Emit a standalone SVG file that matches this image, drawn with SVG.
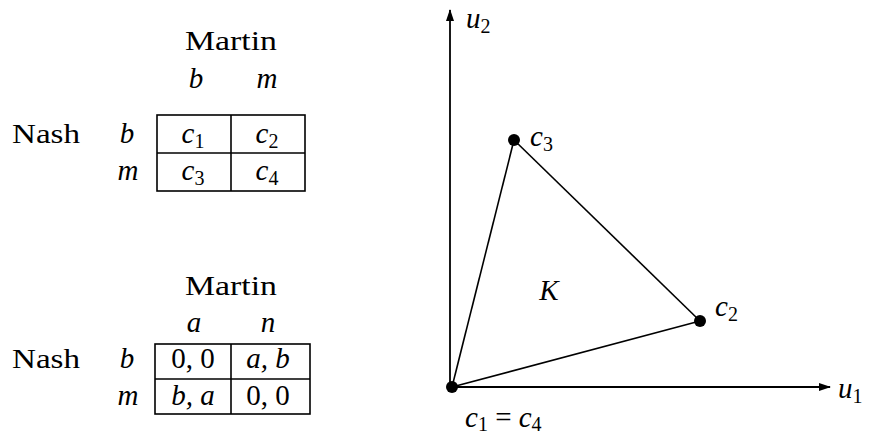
<svg xmlns="http://www.w3.org/2000/svg" width="876" height="435" viewBox="0 0 876 435">
<defs>
<marker id="ar" viewBox="0 0 12 8" refX="11" refY="4" markerWidth="12" markerHeight="8" markerUnits="userSpaceOnUse" orient="auto">
<path d="M0,0 L12,4 L0,8 Z" fill="#000"/>
</marker>
</defs>
<g id="table1">
<text x="231" y="50" text-anchor="middle" font-family="Liberation Serif" font-size="28" textLength="92" lengthAdjust="spacingAndGlyphs">Martin</text>
<text x="196" y="88" text-anchor="middle" font-style="italic" font-family="Liberation Serif" font-size="29">b</text>
<text x="267" y="88" text-anchor="middle" font-style="italic" font-family="Liberation Serif" font-size="29">m</text>
<text x="12" y="143" font-family="Liberation Serif" font-size="28" textLength="68" lengthAdjust="spacingAndGlyphs">Nash</text>
<text x="127" y="143" text-anchor="middle" font-style="italic" font-family="Liberation Serif" font-size="29">b</text>
<text x="128" y="180" text-anchor="middle" font-style="italic" font-family="Liberation Serif" font-size="29">m</text>
<rect x="157" y="115" width="148" height="76" fill="none" stroke="#000" stroke-width="1.6"/>
<line x1="231" y1="115" x2="231" y2="191" stroke="#000" stroke-width="1.6"/>
<line x1="157" y1="153" x2="305" y2="153" stroke="#000" stroke-width="1.6"/>
<text x="193" y="143" text-anchor="middle" font-style="italic" font-family="Liberation Serif" font-size="29">c<tspan font-style="normal" font-size="20" dy="5">1</tspan></text>
<text x="267" y="143" text-anchor="middle" font-style="italic" font-family="Liberation Serif" font-size="29">c<tspan font-style="normal" font-size="20" dy="5">2</tspan></text>
<text x="193" y="180" text-anchor="middle" font-style="italic" font-family="Liberation Serif" font-size="29">c<tspan font-style="normal" font-size="20" dy="5">3</tspan></text>
<text x="267" y="180" text-anchor="middle" font-style="italic" font-family="Liberation Serif" font-size="29">c<tspan font-style="normal" font-size="20" dy="5">4</tspan></text>
</g>
<g id="table2">
<text x="231" y="295" text-anchor="middle" font-family="Liberation Serif" font-size="28" textLength="92" lengthAdjust="spacingAndGlyphs">Martin</text>
<text x="194" y="332" text-anchor="middle" font-style="italic" font-family="Liberation Serif" font-size="29">a</text>
<text x="268" y="332" text-anchor="middle" font-style="italic" font-family="Liberation Serif" font-size="29">n</text>
<text x="12" y="368" font-family="Liberation Serif" font-size="28" textLength="68" lengthAdjust="spacingAndGlyphs">Nash</text>
<text x="127" y="368" text-anchor="middle" font-style="italic" font-family="Liberation Serif" font-size="29">b</text>
<text x="128" y="405" text-anchor="middle" font-style="italic" font-family="Liberation Serif" font-size="29">m</text>
<rect x="155" y="344" width="155" height="70" fill="none" stroke="#000" stroke-width="1.6"/>
<line x1="231" y1="344" x2="231" y2="414" stroke="#000" stroke-width="1.6"/>
<line x1="155" y1="379" x2="310" y2="379" stroke="#000" stroke-width="1.6"/>
<text x="193" y="368" text-anchor="middle" font-family="Liberation Serif" font-size="29">0, 0</text>
<text x="268" y="368" text-anchor="middle" font-style="italic" font-family="Liberation Serif" font-size="29">a, b</text>
<text x="193" y="405" text-anchor="middle" font-style="italic" font-family="Liberation Serif" font-size="29">b, a</text>
<text x="268" y="405" text-anchor="middle" font-family="Liberation Serif" font-size="29">0, 0</text>
</g>
<g id="connectors">
<line x1="450" y1="388" x2="450" y2="10" stroke="#000" stroke-width="1.8" marker-end="url(#ar)"/>
<line x1="450" y1="387" x2="830" y2="387" stroke="#000" stroke-width="1.8" marker-end="url(#ar)"/>
<line x1="452" y1="387" x2="514" y2="140" stroke="#000" stroke-width="1.6"/>
<line x1="514" y1="140" x2="700" y2="321" stroke="#000" stroke-width="1.6"/>
<line x1="452" y1="387" x2="700" y2="321" stroke="#000" stroke-width="1.6"/>
</g>
<g id="axis-labels">
<text x="466" y="28" font-style="italic" font-family="Liberation Serif" font-size="29">u<tspan font-style="normal" font-size="20" dy="5">2</tspan></text>
<text x="838" y="398" font-style="italic" font-family="Liberation Serif" font-size="29">u<tspan font-style="normal" font-size="20" dy="5">1</tspan></text>
<text x="549" y="300" text-anchor="middle" font-style="italic" font-family="Liberation Serif" font-size="29">K</text>
</g>
<g id="c1c4">
<circle cx="452" cy="387" r="6" fill="#000"/>
<text x="465" y="427" font-style="italic" font-family="Liberation Serif" font-size="29">c<tspan font-style="normal" font-size="20" dy="4">1</tspan><tspan font-style="normal" dy="-4"> = </tspan>c<tspan font-style="normal" font-size="20" dy="4">4</tspan></text>
</g>
<g id="c3">
<circle cx="514" cy="140" r="6" fill="#000"/>
<text x="530" y="146" font-style="italic" font-family="Liberation Serif" font-size="29">c<tspan font-style="normal" font-size="20" dy="5">3</tspan></text>
</g>
<g id="c2">
<circle cx="700" cy="321" r="6" fill="#000"/>
<text x="715" y="316" font-style="italic" font-family="Liberation Serif" font-size="29">c<tspan font-style="normal" font-size="20" dy="5">2</tspan></text>
</g>
</svg>
